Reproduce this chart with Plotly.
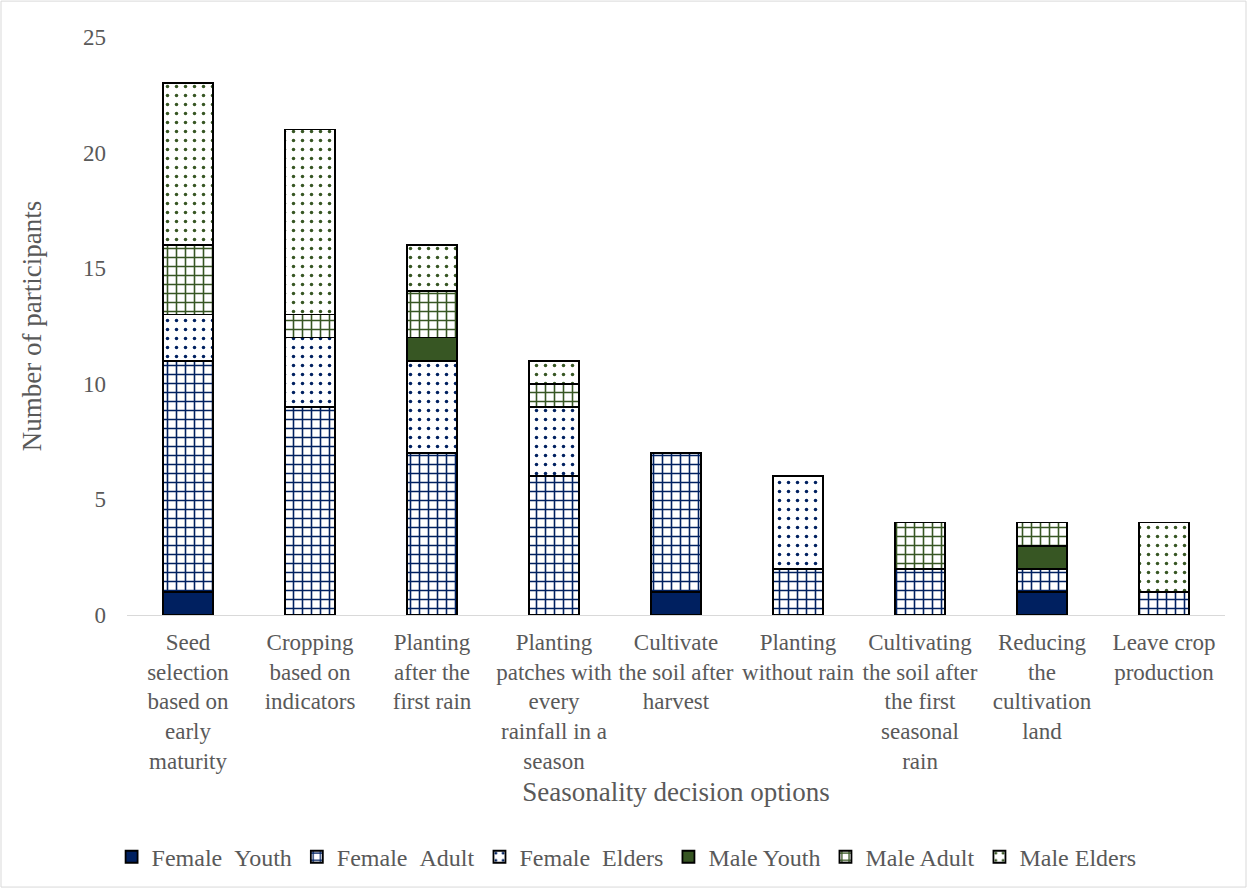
import plotly.graph_objects as go

categories = [
    "Seed<br>selection<br>based on<br>early<br>maturity",
    "Cropping<br>based on<br>indicators",
    "Planting<br>after the<br>first rain",
    "Planting<br>patches with<br>every<br>rainfall in a<br>season",
    "Cultivate<br>the soil after<br>harvest",
    "Planting<br>without rain",
    "Cultivating<br>the soil after<br>the first<br>seasonal<br>rain",
    "Reducing<br>the<br>cultivation<br>land",
    "Leave crop<br>production",
]

female_youth = [1, 0, 0, 0, 1, 0, 0, 1, 0]
female_adult = [10, 9, 7, 6, 6, 2, 2, 1, 1]
female_elders = [2, 3, 4, 3, 0, 4, 0, 0, 0]
male_youth = [0, 0, 1, 0, 0, 0, 0, 1, 0]
male_adult = [3, 1, 2, 1, 0, 0, 2, 1, 0]
male_elders = [7, 8, 2, 1, 0, 0, 0, 0, 3]

NAVY = "#002060"
GREEN = "#375623"
TEXT = "#595959"
FONT = "Liberation Serif"

series = [
    ("Female\u00a0\u00a0Youth", female_youth, NAVY, ""),
    ("Female\u00a0\u00a0Adult", female_adult, NAVY, "+"),
    ("Female\u00a0\u00a0Elders", female_elders, NAVY, "."),
    ("Male Youth", male_youth, GREEN, ""),
    ("Male Adult", male_adult, GREEN, "+"),
    ("Male Elders", male_elders, GREEN, "."),
]

fig = go.Figure()
for name, vals, color, shape in series:
    if shape == "":
        marker = dict(color=color, line=dict(color="black", width=1.8))
    elif shape == "+":
        marker = dict(
            color="white",
            line=dict(color="black", width=1.8),
            pattern=dict(shape="+", fgcolor=color, bgcolor="white", fgopacity=1,
                         size=9, solidity=0.32, fillmode="overlay"),
        )
    else:
        marker = dict(
            color="white",
            line=dict(color="black", width=1.8),
            pattern=dict(shape=".", fgcolor=color, bgcolor="white", fgopacity=1,
                         size=9, solidity=0.12, fillmode="overlay"),
        )
    fig.add_trace(go.Bar(x=categories, y=vals, name=name, marker=marker))

# light frame around the whole chart area
L, R, T, B = 127, 23, 37, 275
W, H = 1248, 892
pw, ph = W - L - R, H - T - B
fig.add_shape(
    type="rect", xref="paper", yref="paper",
    x0=(1 - L) / pw, x1=(W - 2 - L) / pw,
    y0=-(H - T - ph - 2) / ph, y1=(ph + T - 1) / ph,
    line=dict(color="#d9d9d9", width=1), fillcolor="rgba(0,0,0,0)", layer="below",
)

fig.update_layout(
    barmode="stack",
    bargap=0.59,
    width=W, height=H,
    margin=dict(l=L, r=R, t=T, b=B),
    paper_bgcolor="white",
    plot_bgcolor="white",
    font=dict(family=FONT, size=23, color=TEXT),
    showlegend=True,
    legend=dict(
        orientation="h", x=0.455, xanchor="center", y=-0.38, yanchor="top",
        font=dict(family=FONT, size=24, color=TEXT),
        traceorder="normal", itemwidth=30,
    ),
    xaxis=dict(
        title=dict(text="Seasonality decision options", font=dict(size=27, color=TEXT), standoff=8),
        showline=True, linecolor="#d9d9d9", linewidth=1,
        ticks="", tickfont=dict(size=23, color=TEXT), tickangle=0,
        ticklabelstandoff=6,
        showgrid=False,
    ),
    yaxis=dict(
        title=dict(text="Number of participants", font=dict(size=27, color=TEXT), standoff=33),
        range=[0, 25], dtick=5, showgrid=False, zeroline=False,
        showline=False, ticks="", tickfont=dict(size=23, color=TEXT),
        ticklabelstandoff=20,
    ),
)

fig.write_html("out.html")
